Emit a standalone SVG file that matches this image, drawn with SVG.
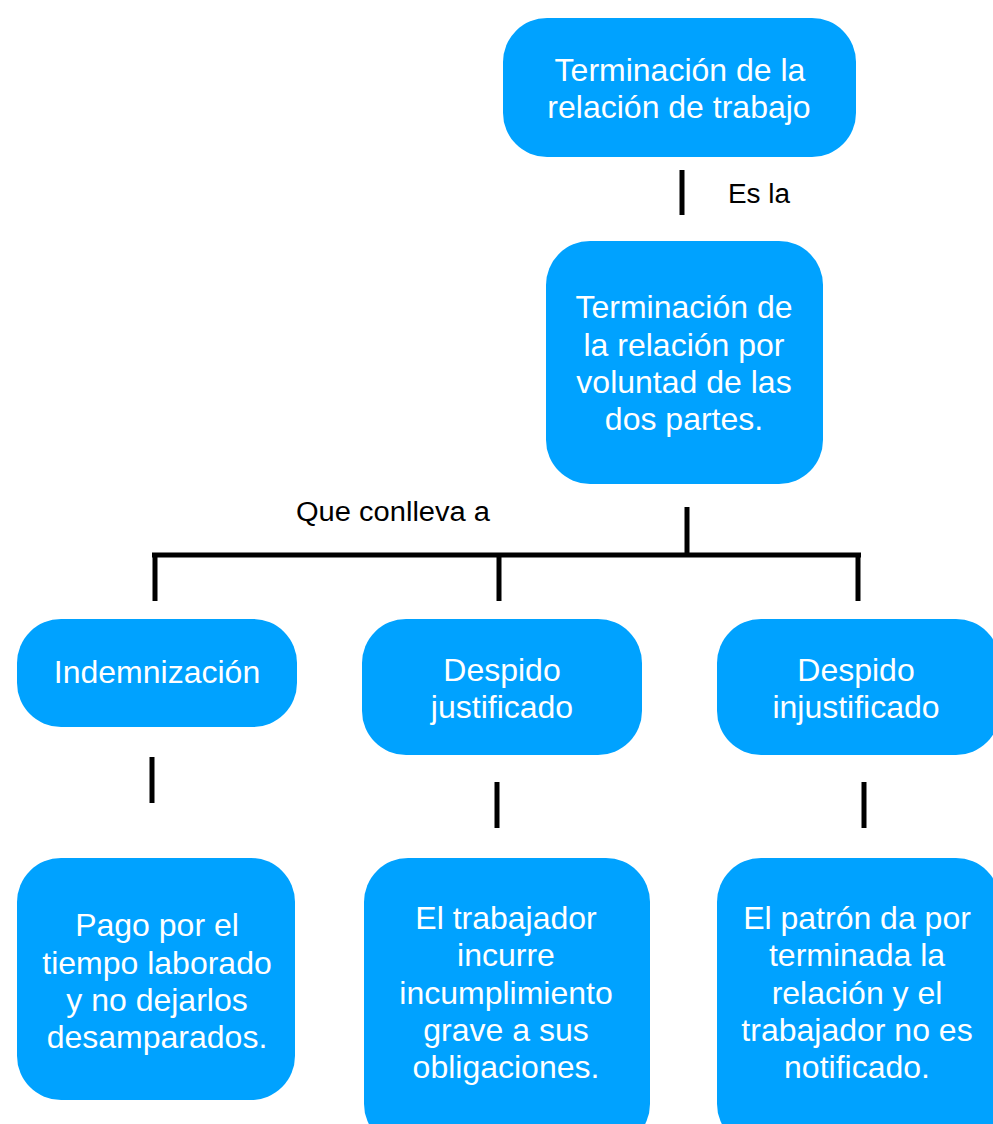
<svg xmlns="http://www.w3.org/2000/svg" width="993" height="1124" viewBox="0 0 993 1124">
<style>
.box{fill:#00A2FF;}
.t{font-family:"Liberation Sans",Arial,sans-serif;font-size:32px;fill:#ffffff;text-anchor:middle;}
.lbl{font-family:"Liberation Sans",Arial,sans-serif;font-size:27px;fill:#000000;}
.ln{stroke:#000000;stroke-width:5;fill:none;}
</style>
<rect width="993" height="1124" fill="#ffffff"/>
<g id="connectors">
<line class="ln" x1="682" y1="170" x2="682" y2="215"/>
<line class="ln" x1="687" y1="507" x2="687" y2="555"/>
<line class="ln" x1="152" y1="555" x2="861" y2="555"/>
<line class="ln" x1="155" y1="553" x2="155" y2="601"/>
<line class="ln" x1="499" y1="553" x2="499" y2="601"/>
<line class="ln" x1="858" y1="553" x2="858" y2="601"/>
<line class="ln" x1="152" y1="757" x2="152" y2="803"/>
<line class="ln" x1="497" y1="782" x2="497" y2="828"/>
<line class="ln" x1="864" y1="782" x2="864" y2="828"/>
<text class="lbl" x="728" y="203" textLength="62" lengthAdjust="spacingAndGlyphs">Es la</text>
<text class="lbl" x="296" y="521" textLength="194" lengthAdjust="spacingAndGlyphs">Que conlleva a</text>
</g>
<g id="n1">
<rect class="box" x="503" y="18" width="353" height="139" rx="44"/>
<text class="t" x="680" y="81">Terminación de la</text>
<text class="t" x="679" y="118">relación de trabajo</text>
</g>
<g id="n2">
<rect class="box" x="546" y="241" width="277" height="243" rx="44"/>
<text class="t" x="684" y="318">Terminación de</text>
<text class="t" x="684" y="356">la relación por</text>
<text class="t" x="684" y="393">voluntad de las</text>
<text class="t" x="684" y="430">dos partes.</text>
</g>
<g id="n3">
<rect class="box" x="17" y="619" width="280" height="108" rx="44"/>
<text class="t" x="157" y="683">Indemnización</text>
</g>
<g id="n4">
<rect class="box" x="362" y="619" width="280" height="136" rx="44"/>
<text class="t" x="502" y="681">Despido</text>
<text class="t" x="502" y="718">justificado</text>
</g>
<g id="n5">
<rect class="box" x="717" y="619" width="283" height="136" rx="44"/>
<text class="t" x="856" y="681">Despido</text>
<text class="t" x="856" y="718">injustificado</text>
</g>
<g id="n6">
<rect class="box" x="17" y="858" width="278" height="242" rx="44"/>
<text class="t" x="157" y="936">Pago por el</text>
<text class="t" x="157" y="974">tiempo laborado</text>
<text class="t" x="157" y="1011">y no dejarlos</text>
<text class="t" x="157" y="1048">desamparados.</text>
</g>
<g id="n7">
<rect class="box" x="364" y="858" width="286" height="290" rx="44"/>
<text class="t" x="506" y="929">El trabajador</text>
<text class="t" x="506" y="966">incurre</text>
<text class="t" x="506" y="1004">incumplimiento</text>
<text class="t" x="506" y="1041">grave a sus</text>
<text class="t" x="506" y="1078">obligaciones.</text>
</g>
<g id="n8">
<rect class="box" x="717" y="858" width="283" height="290" rx="44"/>
<text class="t" x="857" y="929">El patrón da por</text>
<text class="t" x="857" y="966">terminada la</text>
<text class="t" x="857" y="1004">relación y el</text>
<text class="t" x="857" y="1041">trabajador no es</text>
<text class="t" x="857" y="1078">notificado.</text>
</g>
</svg>
